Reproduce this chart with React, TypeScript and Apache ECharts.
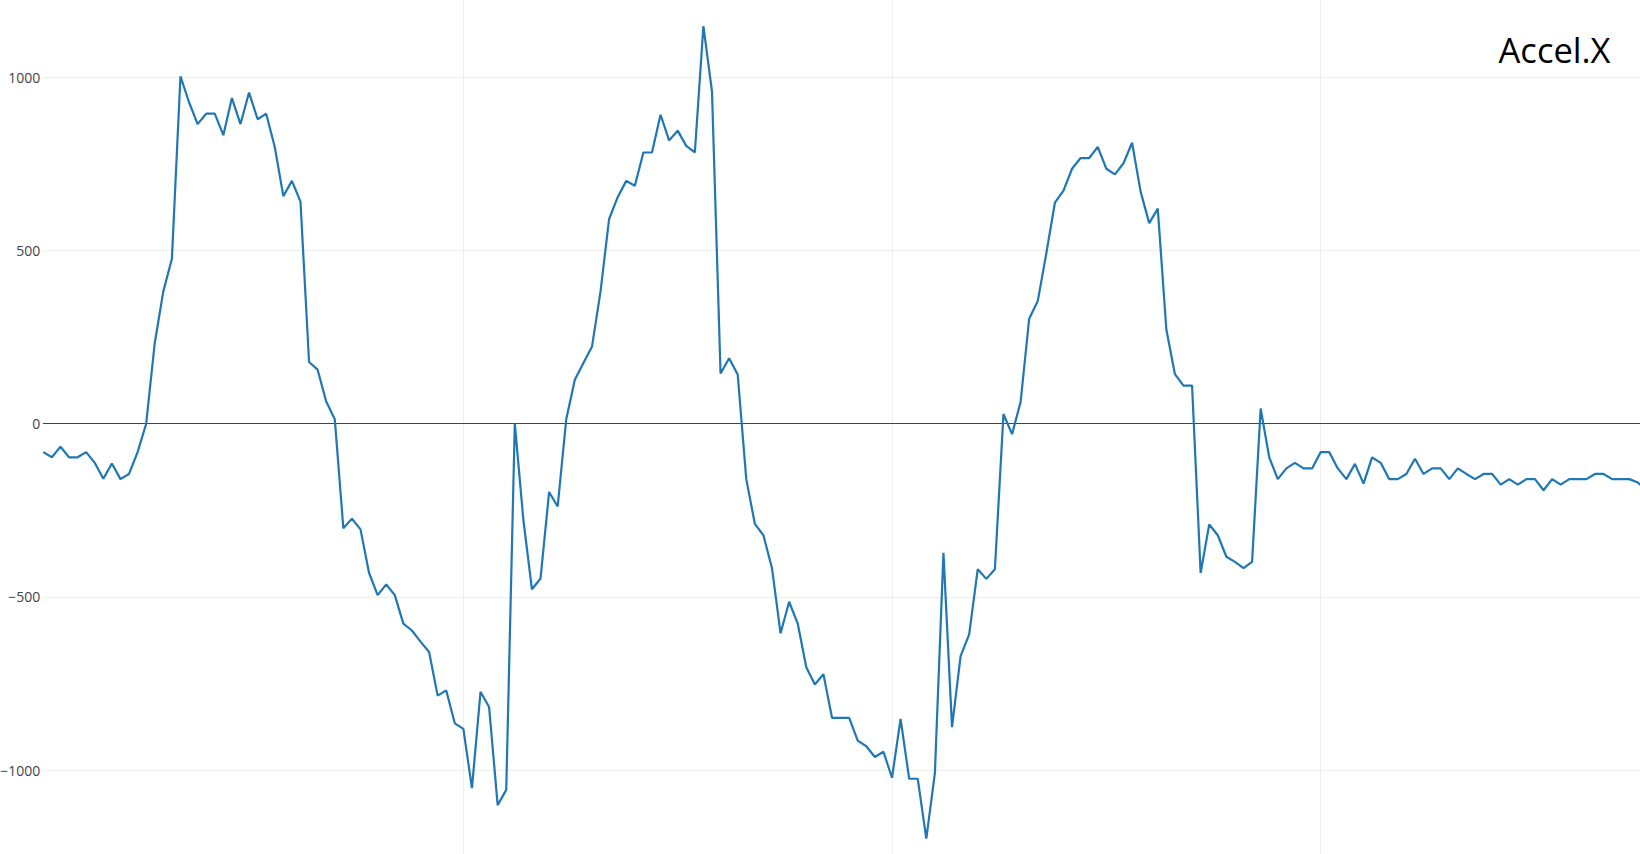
import React, { useEffect, useRef } from "react";
import * as echarts from "echarts";

const accelX: number[] = [
  -82, -97, -66, -97, -97, -82, -113, -159, -115, -160,
  -145, -82, 0, 233, 382, 476, 1003, 928, 865, 895,
  895, 833, 940, 865, 956, 879, 895, 799, 657, 701,
  641, 178, 156, 64, 13, -302, -274, -305, -431, -495,
  -464, -495, -577, -597, -629, -659, -785, -770, -865, -881,
  -1052, -774, -818, -1101, -1057, 0, -278, -478, -447, -197,
  -239, 13, 127, 175, 222, 382, 591, 654, 701, 687,
  783, 783, 892, 818, 846, 802, 783, 1148, 959, 145,
  189, 142, -160, -289, -322, -417, -605, -514, -577, -703,
  -753, -723, -849, -849, -849, -915, -931, -962, -947, -1022,
  -852, -1025, -1025, -1198, -1009, -373, -876, -671, -608, -420,
  -448, -420, 28, -30, 63, 303, 354, 492, 638, 673,
  736, 767, 767, 799, 736, 720, 752, 811, 670, 579,
  621, 272, 143, 110, 110, -431, -291, -322, -384, -399,
  -417, -399, 44, -97, -160, -129, -113, -129, -129, -82,
  -82, -129, -160, -116, -173, -97, -113, -160, -160, -145,
  -101, -145, -129, -129, -160, -129, -145, -160, -145, -145,
  -176, -160, -176, -160, -160, -192, -160, -176, -160, -160,
  -160, -145, -145, -160, -160, -160, -170, -190,
];

const xGridValues: number[] = [50, 100, 150];
const yTickValues: number[] = [-1000, -500, 0, 500, 1000];
const titleText = "Accel.X";

export default function App() {
  const ref = useRef<HTMLDivElement>(null);

  useEffect(() => {
    document.body.style.margin = "0";
    document.body.style.overflow = "hidden";
    if (!ref.current) return;
    const chart = echarts.init(ref.current, undefined, { renderer: "svg" });
    const data = accelX.map((v, i) => [i + 1, v]);
    chart.setOption({
      animation: false,
      backgroundColor: "#ffffff",
      grid: {
        left: 43.3,
        right: 0,
        top: 0,
        bottom: 0,
        containLabel: false,
        outerBoundsMode: "none",
      },
      xAxis: {
        type: "value",
        min: 1,
        max: 187.25,
        axisLine: { show: true, onZero: true, lineStyle: { color: "#444444", width: 1 } },
        axisTick: { show: false, customValues: xGridValues },
        axisLabel: { show: false, customValues: xGridValues },
        splitLine: { show: true, lineStyle: { color: "#eeeeee", width: 1 } },
      },
      yAxis: {
        type: "value",
        min: -1242.2,
        max: 1223.2,
        axisLine: { show: false },
        axisTick: { show: false, customValues: yTickValues },
        axisLabel: {
          customValues: yTickValues,
          margin: 3,
          color: "#444444",
          fontFamily: "Open Sans",
          fontSize: 14,
          formatter: (v: number) => (v < 0 ? "\u2212" + Math.abs(v) : String(v)),
        },
        splitLine: { show: true, lineStyle: { color: "#eeeeee", width: 1 } },
      },
      graphic: [
        {
          type: "text",
          right: 29.5,
          top: 32,
          style: {
            text: titleText,
            fill: "#000000",
            fontFamily: "Open Sans",
            fontSize: 34.5,
            textAlign: "right",
          },
        },
      ],
      series: [
        {
          type: "line",
          data,
          showSymbol: false,
          symbol: "none",
          lineStyle: { color: "#1f77b4", width: 2.2 },
          itemStyle: { color: "#1f77b4" },
          clip: true,
        },
      ],
    });
    return () => chart.dispose();
  }, []);

  return <div ref={ref} style={{ width: 1640, height: 854 }} />;
}
